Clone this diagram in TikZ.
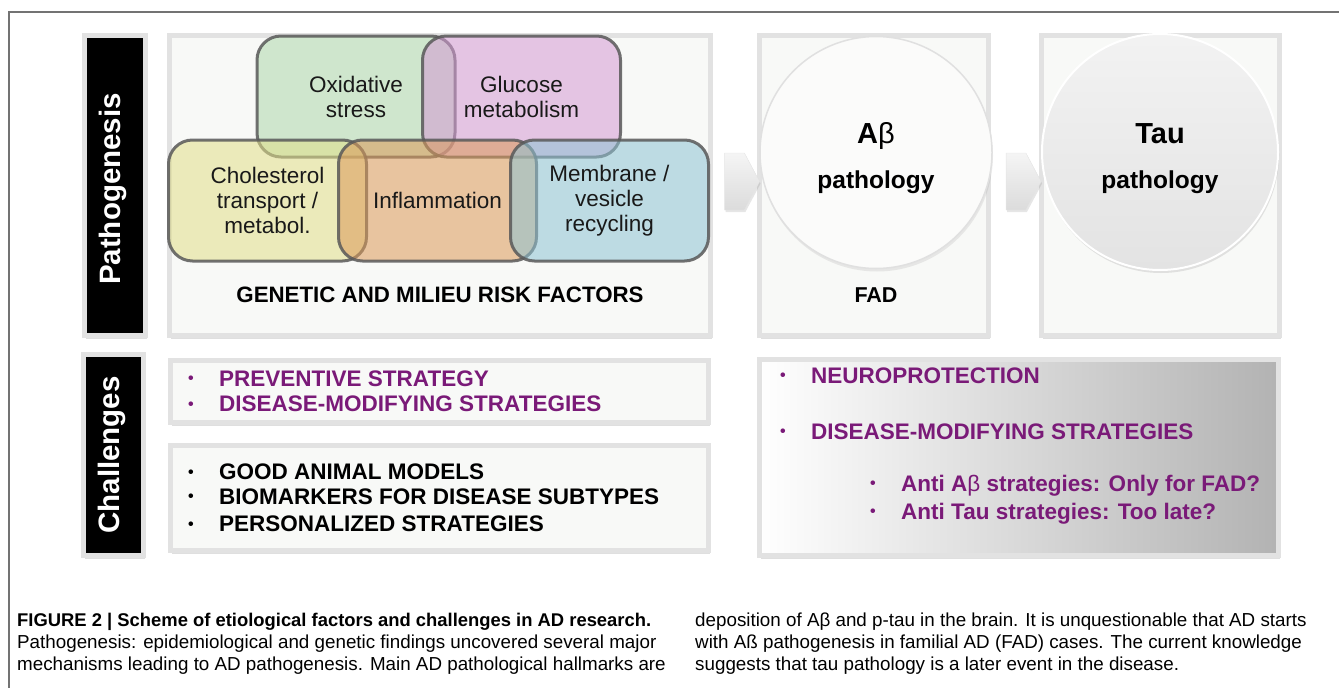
\documentclass[tikz,border=0pt]{standalone}
\usepackage{fontspec}
\setmainfont{Liberation Sans}
\usetikzlibrary{shapes.symbols,shadows}

\definecolor{paper}{HTML}{F8F9F7}
\definecolor{rim}{HTML}{E2E2E2}
\definecolor{strat}{RGB}{122,26,120}
\definecolor{oxgreen}{RGB}{175,215,172}
\definecolor{glupink}{RGB}{212,153,212}
\definecolor{cholyel}{RGB}{225,223,136}
\definecolor{inforange}{RGB}{219,153,88}
\definecolor{membblue}{RGB}{142,195,211}

\newcommand{\fs}[2]{\fontsize{#1}{#2}\selectfont}
\newcommand{\bul}{\makebox[31pt][l]{\raisebox{2.5pt}{\fs{16}{16}\textbullet}}}

\begin{document}
\begin{tikzpicture}[x=1pt, y=-1pt,
  panel/.style={draw=rim, line width=5pt, fill=paper, inner sep=0pt,
    drop shadow={shadow xshift=1pt, shadow yshift=-3pt, opacity=0.25}},
  bar/.style={panel, fill=black},
  risk/.style={draw=black!65, draw opacity=0.85, line width=3pt, rounded corners=24pt,
    fill opacity=0.55, text opacity=1, minimum width=198, minimum height=121,
    align=center, font=\fs{22.5}{25}, text=black!90},
  chev/.style={signal, signal to=east, signal pointer angle=124, inner sep=0pt,
    minimum width=35, minimum height=57, draw=black!10, top color=black!4, bottom color=black!14,
    drop shadow={shadow xshift=1pt, shadow yshift=-2pt, opacity=0.2}},
  side/.style={rotate=90, text=white, font=\bfseries\fs{29.5}{30}},
  item/.style={anchor=base west, inner sep=0pt, font=\bfseries\fs{22.5}{25}},
  captxt/.style={anchor=base west, inner sep=0pt, font=\fs{18.8}{22}}]
  \useasboundingbox (0,0) rectangle (1339,688);
  \draw[draw=black!55, line width=1.5pt] (1345,12) -- (9,12) -- (9,695);

  % side labels
  \node[bar, minimum width=61, minimum height=300] (pbar) at (115,185.5) {};
  \node[side] (ptxt) at (113,189) {Pathogenesis};
  \node[bar, minimum width=60, minimum height=201] (cbar) at (113.5,455) {};
  \node[side] (ctxt) at (112,455) {Challenges};

  % pathogenesis panels
  \node[panel, minimum width=541, minimum height=300] (risk) at (440,185.5) {};
  \node[panel, minimum width=229, minimum height=300] (abp) at (874,185.5) {};
  \node[panel, minimum width=238, minimum height=300] (taup) at (1160.5,185.5) {};

  % overlapping risk factors
  \node[risk, fill=oxgreen] (ox) at (356,96.5) {Oxidative\\stress};
  \node[risk, fill=glupink] (glu) at (521.5,96.5) {Glucose\\metabolism};
  \node[risk, fill=cholyel] (chol) at (267.5,200.5) {Cholesterol\\transport /\\metabol.};
  \node[risk, fill=inforange] (infl) at (437.5,200.5) {Inflammation};
  \node[risk, fill=membblue] (memb) at (609.5,200.5) {Membrane /\\vesicle\\recycling};
  \node[anchor=base, font=\bfseries\fs{22.3}{22}] (gen) at (440,302) {GENETIC AND MILIEU RISK FACTORS};

  % pathology circles
  \node[chev] (ch1) at (734.5,181.5) {};
  \node[circle, minimum size=232, fill=paper!60!white, draw=black!12, line width=1.5pt,
    drop shadow={shadow xshift=1pt, shadow yshift=-3pt, opacity=0.15}] (abc) at (876,152.5) {};
  \node[anchor=base, font=\bfseries\fs{29}{30}] (abt) at (876,143) {A{\mdseries β}};
  \node[anchor=base, font=\bfseries\fs{24.5}{25}] (abpt) at (876,188) {pathology};
  \node[anchor=base, font=\bfseries\fs{21.5}{22}] (fad) at (876,302) {FAD};
  \node[chev] (ch2) at (1016,181.5) {};
  \node[circle, minimum size=236, top color=black!5, bottom color=black!11, draw=white, line width=2pt,
    drop shadow={shadow xshift=1pt, shadow yshift=-3pt, opacity=0.2}] (tauc) at (1160,152) {};
  \node[anchor=base, font=\bfseries\fs{29}{30}] (taut) at (1160,143) {Tau};
  \node[anchor=base, font=\bfseries\fs{24.5}{25}] (taupt) at (1160,188) {pathology};

  % challenges
  \node[panel, minimum width=538, minimum height=62] (strbox) at (439.5,391.5) {};
  \node[item, text=strat] (prev) at (188,386) {\bul PREVENTIVE STRATEGY};
  \node[item, text=strat] (dmod) at (188,411.5) {\bul DISEASE-MODIFYING STRATEGIES};
  \node[panel, minimum width=538, minimum height=105] (toolbox) at (439.5,498) {};
  \node[item] (anim) at (188,479.5) {\bul GOOD ANIMAL MODELS};
  \node[item] (bio) at (188,504) {\bul BIOMARKERS FOR DISEASE SUBTYPES};
  \node[item] (pers) at (188,531.5) {\bul PERSONALIZED STRATEGIES};
  \node[panel, left color=white, right color=black!30, minimum width=519, minimum height=196] (neubox) at (1019,457.5) {};
  \node[item, text=strat] (neuro) at (780,383) {\bul NEUROPROTECTION};
  \node[item, text=strat] (dmod2) at (780,439) {\bul DISEASE-MODIFYING STRATEGIES};
  \node[item, text=strat] (antiab) at (870,491) {\bul Anti A{\mdseries β} strategies: Only for FAD?};
  \node[item, text=strat] (antitau) at (870,519) {\bul Anti Tau strategies: Too late?};

  % caption
  \node[captxt, font=\bfseries\fs{18.4}{22}] (fig) at (17,626) {FIGURE 2 | Scheme of etiological factors and challenges in AD research.};
  \node[captxt] (c2) at (17,648) {Pathogenesis: epidemiological and genetic findings uncovered several major};
  \node[captxt] (c3) at (17,670) {mechanisms leading to AD pathogenesis. Main AD pathological hallmarks are};
  \node[captxt] (c4) at (695,626) {deposition of Aβ and p-tau in the brain. It is unquestionable that AD starts};
  \node[captxt] (c5) at (695,648) {with Aß pathogenesis in familial AD (FAD) cases. The current knowledge};
  \node[captxt] (c6) at (695,670) {suggests that tau pathology is a later event in the disease.};
\end{tikzpicture}
\end{document}
